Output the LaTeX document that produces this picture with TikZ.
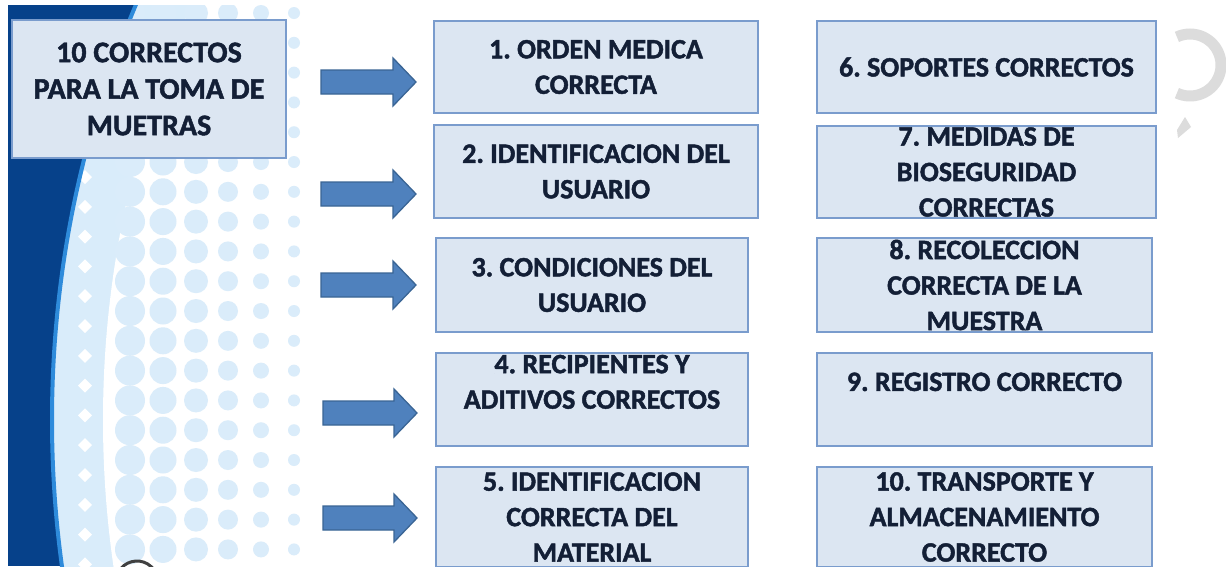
\documentclass[tikz,border=0pt]{standalone}
\usepackage{fontspec}
\setmainfont{Carlito}[BoldFont={Carlito Bold}, BoldFeatures={FakeBold=1.6}]
\frenchspacing
\definecolor{bandblue}{HTML}{06418A}
\definecolor{edgeblue}{HTML}{2E8BDB}
\definecolor{palebg}{HTML}{D9ECFA}
\definecolor{dotc}{HTML}{DAECFA}
\definecolor{boxfill}{HTML}{DCE6F2}
\definecolor{boxline}{HTML}{7A9CCD}
\definecolor{arrowfill}{HTML}{4F81BD}
\definecolor{arrowline}{HTML}{3A6595}
\definecolor{txt}{HTML}{131F36}
\definecolor{greyc}{HTML}{DCDCDC}
\tikzset{
  box/.style={draw=boxline, fill=boxfill, line width=1.3pt, inner sep=0pt,
    align=center, text=txt, font=\fontsize{28}{35.5}\selectfont\bfseries},
  titlebox/.style={box, font=\fontsize{30}{36.5}\selectfont\bfseries},
  blockarrow/.style={fill=arrowfill, draw=arrowline, line width=1.3pt, line join=miter},
}
\newcommand\blockarr[3]{%
  \draw[blockarrow] (#1,#3-12) -- (#2-23,#3-12) -- (#2-23,#3-24) -- (#2,#3)
    -- (#2-23,#3+24) -- (#2-23,#3+12) -- (#1,#3+12) -- cycle;}
\begin{document}
\begin{tikzpicture}[x=1pt,y=-1pt]
\useasboundingbox (0,0) rectangle (1226,566);
\fill[white] (0,0) rectangle (1226,566);
% background band
\begin{scope}
  \clip (8,5) rectangle (1226,566);
  \fill[bandblue] (8,5) rectangle (320,566);
  \fill[palebg] (1118,420) circle (1067);
  \fill[white] (1118,420) circle (1015);
  \begin{scope}
    \clip (1118,420) circle (1064);
    \foreach \cx/\r in {130/15,163/13.5,196/12,228/10,261/8,294/6}{
      \foreach \k in {0,...,18}{
        \fill[dotc] (\cx,13+29.8*\k) circle (\r);
      }
    }
    \foreach \k in {0,...,18}{
      \fill[white] (85,28+29.8*\k) +(-7,0) -- +(0,-7) -- +(7,0) -- +(0,7) -- cycle;
    }
  \end{scope}
  \draw[edgeblue, line width=4pt] (1118,420) circle (1066);
\end{scope}
% grey decorations
\draw[greyc, line width=11pt] (1190,65) ++(115:31) arc[start angle=115, end angle=-115, radius=31];
\fill[greyc] (1185,117) -- (1191,127) -- (1178,138) -- (1177,130) -- cycle;
\draw[black!75, line width=3pt] (137,582) ++(-150:21) arc[start angle=-150, end angle=-30, radius=21];
% boxes
\node[titlebox, minimum width=274, minimum height=138] (title) at (149,89)
  {10 CORRECTOS\\PARA LA TOMA DE\\MUETRAS};
\node[box, minimum width=324, minimum height=92] (b1) at (596,67) {1. ORDEN MEDICA\\CORRECTA};
\node[box, minimum width=324, minimum height=93] (b2) at (596,171.5) {2. IDENTIFICACION DEL\\USUARIO};
\node[box, minimum width=312, minimum height=94] (b3) at (592,285) {3. CONDICIONES DEL\\USUARIO};
\node[box, minimum width=312, minimum height=93] (b4) at (592,399.5) {4. RECIPIENTES Y\\ADITIVOS CORRECTOS\\\mbox{}};
\node[box, minimum width=312, minimum height=100] (b5) at (592,517) {5. IDENTIFICACION\\CORRECTA DEL\\MATERIAL};
\node[box, minimum width=339, minimum height=92] (b6) at (986.5,67) {6. SOPORTES CORRECTOS};
\node[box, minimum width=339, minimum height=92] (b7) at (986.5,172) {7. MEDIDAS DE\\BIOSEGURIDAD\\CORRECTAS};
\node[box, minimum width=335, minimum height=94] (b8) at (984.5,285) {8. RECOLECCION\\CORRECTA DE LA\\MUESTRA};
\node[box, minimum width=335, minimum height=93] (b9) at (984.5,399.5) {9. REGISTRO CORRECTO\\\mbox{}};
\node[box, minimum width=335, minimum height=100] (b10) at (984.5,517) {10. TRANSPORTE Y\\ALMACENAMIENTO\\CORRECTO};
% block arrows
\blockarr{321}{416}{82}
\blockarr{321}{416}{194}
\blockarr{321}{416}{285}
\blockarr{323}{417}{413}
\blockarr{323}{417}{518}
\end{tikzpicture}
\end{document}
